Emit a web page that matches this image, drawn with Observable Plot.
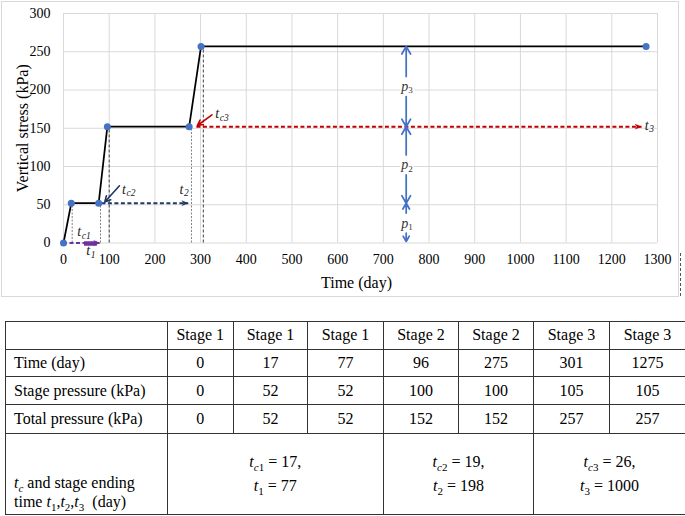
<!DOCTYPE html>
<html><head><meta charset="utf-8">
<script src="https://cdn.jsdelivr.net/npm/d3@7"></script>
<script src="https://cdn.jsdelivr.net/npm/@observablehq/plot@0.6"></script>
<style>
body{margin:0;background:#fff;font-family:"Liberation Serif","Times New Roman",Times,"DejaVu Serif",serif;}
#wrap{position:relative;width:685px;height:516px;overflow:hidden;background:#fff;}
#frame{position:absolute;left:1px;top:1px;width:676px;height:294px;border:1px solid #d9d9d9;}
#chart{position:absolute;left:0;top:0;}
#mark{position:absolute;left:680px;top:253px;height:43px;border-left:1px dashed #555;}
#tbl{position:absolute;left:5px;top:321px;border-collapse:collapse;table-layout:fixed;width:680px;font-size:16px;color:#000;font-family:"Liberation Serif","Times New Roman",Times,"DejaVu Serif",serif;}
#tbl td{border:1px solid #333;padding:0;text-align:center;vertical-align:middle;white-space:nowrap;}
#tbl td.l{text-align:left;padding-left:8px;}
#tbl td.lastl{text-align:left;padding-left:8px;vertical-align:bottom;padding-bottom:3px;line-height:19px;}
#tbl td.m{line-height:24px;}
#tbl sub{font-size:11px;vertical-align:-4px;line-height:0;}
</style></head>
<body>
<div id="wrap"><div id="frame"></div><div id="chart"></div><div id="mark"></div><table id="tbl"></table></div>
<script>
// ---- data ----
const stageNames    = ["Stage 1","Stage 1","Stage 1","Stage 2","Stage 2","Stage 3","Stage 3"];
const stageTime     = [0, 17, 77, 96, 275, 301, 1275];
const stagePressure = [0, 52, 52, 100, 100, 105, 105];
const totalPressure = [0, 52, 52, 152, 152, 257, 257];
const tcValues   = [17, 19, 26];
const tEndValues = [77, 198, 1000];
const xTicks = [0,100,200,300,400,500,600,700,800,900,1000,1100,1200,1300];
const yTicks = [0,50,100,150,200,250,300];
// guide lines
const lightDropTimes = [19, 81, 280];
const lightDropTops  = [52, 52, 152];
const darkDropTimes  = [100, 306];
const darkDropTops   = [152, 257];
const arrowLevels = [0, 52, 152];
const arrowFrom   = [0, 84, 292];
const arrowTo     = [81, 274, 1266];
const t1BarFrom = 46, t1BarTo = 74;
const labelSubs = ["c1","1","c2","2","c3","3"];
const labelX    = [30, 50, 128, 254, 332, 1272];
const labelY    = [14.7, -10, 70, 70, 169, 154];
const pointerX1 = [122.4, 324.9], pointerY1 = [74.8, 167.6];
const pointerX2 = [90.3, 293],    pointerY2 = [53.5, 153.6];
const pDay = 750;

// ---- build ----
const SERIF = "'Liberation Serif','Times New Roman',Times,'DejaVu Serif',serif";
const pts = stageTime.map((t,i)=>({t, p: totalPressure[i]}));
const lightDrops = lightDropTimes.map((t,i)=>({t, top: lightDropTops[i]}));
const darkDrops = darkDropTimes.map((t,i)=>({t, top: darkDropTops[i]}));
const arrowColors = ["#7030A0","#1F3864","#C00000"];
const arrows = arrowLevels.map((y,i)=>({y, from: arrowFrom[i], to: arrowTo[i], color: arrowColors[i]}));
const labels = labelSubs.map((s,i)=>({sub:s, x:labelX[i], y:labelY[i]}));
const pointers = pointerX1.map((x,i)=>({x1:x, y1:pointerY1[i], x2:pointerX2[i], y2:pointerY2[i], color: i===0?"#1F3864":"#C00000"}));
const levels = Array.from(new Set(totalPressure));
const pLabels = [], pArrows = [];
for (let i=0;i<levels.length-1;i++){
  const mid = (levels[i]+levels[i+1])/2;
  pLabels.push({y: mid, sub: String(i+1)});
  pArrows.push({y1: mid, y2: levels[i+1]});
  pArrows.push({y1: mid, y2: levels[i] + (i===0?2:0)});
}
const stealth = {draw(ctx, size){ const r=Math.sqrt(size/Math.PI); const L=2*r, W=0.8*r;
  ctx.moveTo(0,0); ctx.lineTo(-L,-W); ctx.lineTo(-0.72*L,0); ctx.lineTo(-L,W); ctx.closePath(); }};

const marks = [
  Plot.gridX(xTicks, {stroke:"#d9d9d9", strokeOpacity:1, strokeWidth:1}),
  Plot.gridY(yTicks, {stroke:"#d9d9d9", strokeOpacity:1, strokeWidth:1}),
  Plot.axisX(xTicks, {tickSize:0, tickPadding:11, fontSize:14, label:null, tickFormat:d=>String(d), fontFamily:SERIF}),
  Plot.axisY(yTicks, {tickSize:0, tickPadding:13, fontSize:14, label:null, tickFormat:d=>String(d), fontFamily:SERIF}),
  Plot.text(["Vertical stress (kPa)"], {text:d=>d, frameAnchor:"left", dx:-41, rotate:-90, textAnchor:"middle", fontSize:16, lineAnchor:"middle", fill:"black", fontFamily:SERIF}),
  Plot.text(["Time (day)"], {text:d=>d, frameAnchor:"bottom", dx:-4, dy:40, textAnchor:"middle", fontSize:16, lineAnchor:"middle", fill:"black", fontFamily:SERIF}),
  Plot.ruleX(lightDrops, {x:"t", y1:0, y2:"top", stroke:"#808080", strokeWidth:1, strokeDasharray:"2,1.5"}),
  Plot.ruleX(darkDrops, {x:"t", y1:0, y2:"top", stroke:"#404040", strokeWidth:1, strokeDasharray:"3,2"}),
  Plot.ruleY([{y:0, x1:t1BarFrom, x2:t1BarTo}], {y:"y", x1:"x1", x2:"x2", stroke:"#7030A0", strokeWidth:4.5, dy:0.5})
];
arrows.forEach(a=>{
  marks.push(Plot.ruleY([a], {y:"y", x1:"from", x2:"to", stroke:a.color, strokeWidth:2, strokeDasharray:"4,2.5"}));
  marks.push(Plot.dot([a], {x:"to", y:"y", symbol:stealth, r:3.6, fill:a.color, stroke:null}));
});
marks.push(
  Plot.line(pts, {x:"t", y:"p", stroke:"black", strokeWidth:1.75}),
  Plot.dot(pts, {x:"t", y:"p", r:3.5, fill:"#4472C4", stroke:null})
);
pointers.forEach(p=>{
  marks.push(Plot.arrow([p], {x1:"x1", y1:"y1", x2:"x2", y2:"y2", stroke:p.color, strokeWidth:1.6, headLength:6, headAngle:55}));
});
const T = {fontFamily:SERIF};
marks.push(
  Plot.arrow(pArrows, {x1:()=>pDay, x2:()=>pDay, y1:"y1", y2:"y2", stroke:"#4472C4", strokeWidth:1.75, headLength:7.5, headAngle:60, insetStart:10}),
  Plot.text(pLabels, {...T, x:()=>pDay, y:"y", text:()=>"p", dx:-5, textAnchor:"start", fontSize:14, fontStyle:"italic", fill:"white", stroke:"white", strokeWidth:4}),
  Plot.text(pLabels, {...T, x:()=>pDay, y:"y", text:"sub", dx:2, dy:4, textAnchor:"start", fontSize:9, fill:"white", stroke:"white", strokeWidth:3}),
  Plot.text(pLabels, {...T, x:()=>pDay, y:"y", text:()=>"p", dx:-5, textAnchor:"start", fontSize:14, fontStyle:"italic", fill:"#333"}),
  Plot.text(pLabels, {...T, x:()=>pDay, y:"y", text:"sub", dx:2, dy:4, textAnchor:"start", fontSize:9, fill:"#333"}),
  Plot.text(labels, {...T, x:"x", y:"y", text:()=>"t", textAnchor:"start", fontSize:14, fontStyle:"italic", fill:"#222"}),
  Plot.text(labels, {...T, x:"x", y:"y", text:"sub", dx:4.5, dy:4, textAnchor:"start", fontSize:9.5, fontStyle:"italic", fill:"#222"})
);

const chart = Plot.plot({
  width: 685, height: 300,
  marginLeft: 63, marginRight: 28, marginTop: 13, marginBottom: 57.5,
  style: {fontFamily: SERIF, fontSize: "14px", color: "black", background: "transparent", overflow: "visible"},
  x: {domain: [0, 1300]},
  y: {domain: [0, 300]},
  marks
});
document.getElementById("chart").appendChild(chart);

// ---- table ----
const tbl = document.getElementById("tbl");
const colW = [161.5, 66.5, 74, 76, 75, 75, 76, 76];
let html = "<colgroup>" + colW.map(w=>`<col style="width:${w}px">`).join("") + "</colgroup>";
html += `<tr style="height:27.5px"><td></td>${stageNames.map(s=>`<td>${s}</td>`).join("")}</tr>`;
html += `<tr style="height:27.5px"><td class="l">Time (day)</td>${stageTime.map(v=>`<td>${v}</td>`).join("")}</tr>`;
html += `<tr style="height:28.3px"><td class="l">Stage pressure (kPa)</td>${stagePressure.map(v=>`<td>${v}</td>`).join("")}</tr>`;
html += `<tr style="height:28.3px"><td class="l">Total pressure (kPa)</td>${totalPressure.map(v=>`<td>${v}</td>`).join("")}</tr>`;
const spans = [3,2,2];
html += `<tr style="height:81.5px"><td class="lastl"><i>t</i><sub><i>c</i></sub> and stage ending<br>time <i>t</i><sub>1</sub>,<i>t</i><sub>2</sub>,<i>t</i><sub>3</sub> &nbsp;(day)</td>` +
  tcValues.map((tc,i)=>`<td class="m" colspan="${spans[i]}"><i>t</i><sub><i>c</i>${i+1}</sub> = ${tc},<br><i>t</i><sub>${i+1}</sub> = ${tEndValues[i]}</td>`).join("") + `</tr>`;
tbl.innerHTML = html;
</script>
</body></html>
